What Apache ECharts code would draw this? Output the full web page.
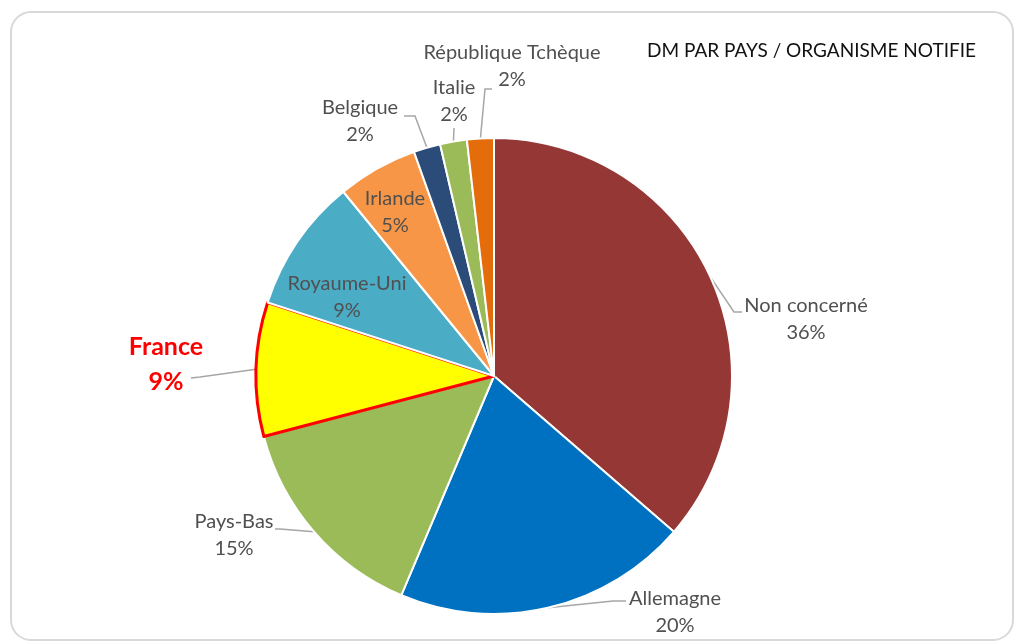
<!DOCTYPE html>
<html><head><meta charset="utf-8">
<script src="https://cdn.jsdelivr.net/npm/echarts@6/dist/echarts.min.js"></script>
<style>html,body{margin:0;padding:0;background:#fff}#chart{width:1022px;height:643px}</style>
</head><body><div id="chart"></div>
<script>
// ---- data ----
const categories = ['Non concerné', 'Allemagne', 'Pays-Bas', 'France', 'Royaume-Uni', 'Irlande', 'Belgique', 'Italie', 'République Tchèque'];
const counts = [20, 11, 8, 5, 5, 3, 1, 1, 1];
const titleText = 'DM PAR PAYS / ORGANISME NOTIFIE';

// ---- style / layout ----
const colors = ['#953735', '#0070C0', '#9BBB59', '#FFFF00', '#4BACC6', '#F79646', '#2B4C78', '#9BBB59', '#E46C0A'];
const CENTER = [494, 376];
const RADIUS = 238;
const FONT = 'Lato, "Open Sans", sans-serif';
const labelPlace = {
  'Non concerné':       { x: 806, y: 319, line: [[734, 312], [742, 312]] },
  'Allemagne':          { x: 675, y: 612, line: [[613, 601], [626, 601]] },
  'Pays-Bas':           { x: 234, y: 535, line: [[280, 529], [275, 529]] },
  'France':             { x: 166, y: 364, line: [[200, 377], [191, 378]] },
  'Royaume-Uni':        { x: 347, y: 297, line: null },
  'Irlande':            { x: 395, y: 212, line: null },
  'Belgique':           { x: 360, y: 121, line: [[415, 116], [404, 116]] },
  'Italie':             { x: 454, y: 101, line: [[454, 128], [454, 128]] },
  'République Tchèque': { x: 512, y: 66,  line: [[485, 89], [492, 89]] }
};

const total = counts.reduce((a, b) => a + b, 0);
function arcPoint(idx) {
  let cum = 0;
  for (let i = 0; i < idx; i++) cum += counts[i];
  cum += counts[idx] / 2;
  const ang = cum / total * Math.PI * 2;
  return [CENTER[0] + RADIUS * Math.sin(ang), CENTER[1] - RADIUS * Math.cos(ang)];
}

const seriesData = categories.map((name, i) => {
  const item = {
    name: name,
    value: counts[i],
    itemStyle: { color: colors[i] }
  };
  if (name === 'France') {
    item.itemStyle.borderColor = '#FF0000';
    item.itemStyle.borderWidth = 3;
  }
  if (!labelPlace[name].line) item.labelLine = { show: false };
  return item;
});

const chart = echarts.init(document.getElementById('chart'), null, { renderer: 'canvas' });
chart.setOption({
  animation: false,
  backgroundColor: '#ffffff',
  graphic: [{
    type: 'rect',
    z: -10,
    silent: true,
    shape: { x: 11, y: 12, width: 1002, height: 628, r: 20 },
    style: { fill: '#ffffff', stroke: '#d9d9d9', lineWidth: 2 }
  }],
  title: {
    text: titleText,
    left: 642,
    top: 36,
    textStyle: { fontFamily: FONT, fontSize: 19, fontWeight: 'normal', color: '#111111' }
  },
  series: [{
    type: 'pie',
    center: CENTER,
    radius: RADIUS,
    startAngle: 90,
    clockwise: true,
    avoidLabelOverlap: false,
    emphasis: { disabled: true },
    itemStyle: { borderColor: '#ffffff', borderWidth: 2 },
    label: {
      show: true,
      position: 'outside',
      overflow: 'none',
      color: '#505050',
      fontFamily: FONT,
      formatter: function (p) {
        const pct = Math.round(p.percent) + '%';
        if (p.name === 'France') return '{fn|' + p.name + '}\n{fp|' + pct + '}';
        return '{n|' + p.name + '}\n{p|' + pct + '}';
      },
      rich: {
        n: { fontFamily: FONT, fontSize: 20, lineHeight: 27, color: '#505050', align: 'center' },
        p: { fontFamily: FONT, fontSize: 20, lineHeight: 27, color: '#505050', align: 'center' },
        fn: { fontFamily: FONT, fontSize: 25, lineHeight: 35, color: '#FF0000', fontWeight: 'bold', align: 'center' },
        fp: { fontFamily: FONT, fontSize: 25, lineHeight: 35, color: '#FF0000', fontWeight: 'bold', align: 'center' }
      }
    },
    labelLine: {
      show: true,
      smooth: false,
      lineStyle: { color: '#a6a6a6', width: 1.5 }
    },
    labelLayout: function (params) {
      const name = categories[params.dataIndex];
      const pl = labelPlace[name];
      const out = { x: pl.x, y: pl.y, align: 'center', verticalAlign: 'middle' };
      if (pl.line) out.labelLinePoints = [arcPoint(params.dataIndex)].concat(pl.line);
      return out;
    },
    data: seriesData
  }]
});
</script>
</body></html>
